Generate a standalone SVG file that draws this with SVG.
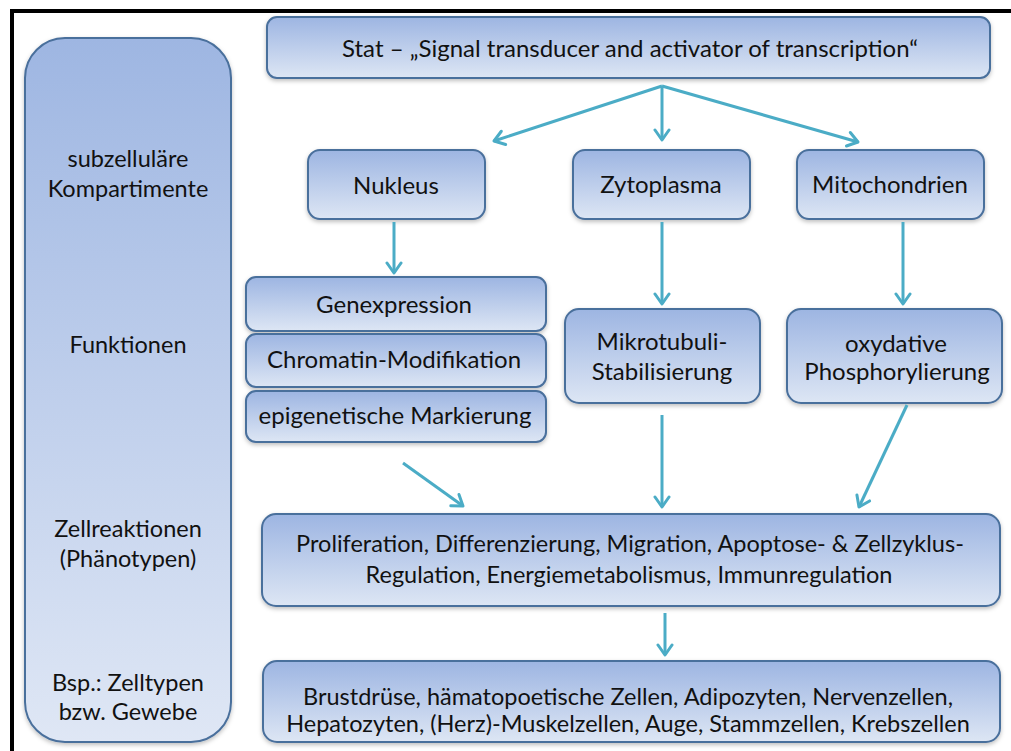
<svg xmlns="http://www.w3.org/2000/svg" width="1011" height="751" viewBox="0 0 1011 751">
<defs>
<linearGradient id="g" x1="0" y1="0" x2="0" y2="1">
<stop offset="0" stop-color="#9db5e2"/>
<stop offset="1" stop-color="#dde6f4"/>
</linearGradient>
<linearGradient id="gl" x1="0" y1="0" x2="0" y2="1">
<stop offset="0" stop-color="#9eb6e2"/>
<stop offset="1" stop-color="#dfe7f5"/>
</linearGradient>
<filter id="sh" x="-10%" y="-10%" width="120%" height="130%">
<feDropShadow dx="0" dy="2" stdDeviation="2" flood-color="#000" flood-opacity="0.25"/>
</filter>
<marker id="ah" viewBox="0 0 14 18" refX="12" refY="9" markerWidth="14" markerHeight="18" markerUnits="userSpaceOnUse" orient="auto">
<path d="M2,2 L12,9 L2,16" fill="none" stroke="#4bacc6" stroke-width="3" stroke-linecap="round" stroke-linejoin="round"/>
</marker>
</defs>
<style>
.box{fill:url(#g);stroke:#4a6f9c;stroke-width:2;filter:url(#sh)}
.t{font-family:Lato,"Liberation Sans",sans-serif;font-size:24px;fill:#111;text-anchor:middle}
.s{font-size:23.5px}
.c{fill:none;stroke:#4bacc6;stroke-width:3;marker-end:url(#ah)}
</style>
<rect x="0" y="0" width="1011" height="751" fill="#fff"/>
<rect x="12" y="11" width="1010" height="760" fill="none" stroke="#000" stroke-width="4"/>

<g id="left">
<rect x="25" y="38" width="206" height="704" rx="40" ry="40" fill="url(#gl)" stroke="#4a6f9c" stroke-width="2" filter="url(#sh)"/>
<text class="t s" x="128" y="167">subzelluläre</text>
<text class="t s" x="128" y="197">Kompartimente</text>
<text class="t s" x="128" y="353">Funktionen</text>
<text class="t s" x="128" y="537">Zellreaktionen</text>
<text class="t s" x="128" y="567">(Phänotypen)</text>
<text class="t s" x="128" y="691">Bsp.: Zelltypen</text>
<text class="t s" x="128" y="720">bzw. Gewebe</text>
</g>

<g id="stat">
<rect class="box" x="267" y="17" width="723" height="61" rx="10"/>
<text class="t" x="630" y="57">Stat – „Signal transducer and activator of transcription“</text>
</g>
<g id="nukleus">
<rect class="box" x="308" y="150" width="177" height="69" rx="12"/>
<text class="t" x="396" y="194">Nukleus</text>
</g>
<g id="zytoplasma">
<rect class="box" x="573" y="150" width="177" height="69" rx="12"/>
<text class="t" x="661" y="193">Zytoplasma</text>
</g>
<g id="mitochondrien">
<rect class="box" x="797" y="150" width="187" height="69" rx="12"/>
<text class="t" x="890" y="193">Mitochondrien</text>
</g>
<g id="genexpression">
<rect class="box" x="246" y="277" width="300" height="54" rx="10"/>
<text class="t" x="394" y="313">Genexpression</text>
</g>
<g id="chromatin">
<rect class="box" x="246" y="334" width="300" height="53" rx="10"/>
<text class="t" x="394" y="368">Chromatin-Modifikation</text>
</g>
<g id="epigenetisch">
<rect class="box" x="246" y="391" width="300" height="51" rx="10"/>
<text class="t" x="395" y="424">epigenetische Markierung</text>
</g>
<g id="mikrotubuli">
<rect class="box" x="565" y="309" width="195" height="94" rx="14"/>
<text class="t" x="662" y="350">Mikrotubuli-</text>
<text class="t" x="662" y="380">Stabilisierung</text>
</g>
<g id="oxydative">
<rect class="box" x="787" y="309" width="215" height="94" rx="14"/>
<text class="t" x="896" y="352">oxydative</text>
<text class="t" x="897" y="380">Phosphorylierung</text>
</g>
<g id="zellreaktionen">
<rect class="box" x="262" y="514" width="738" height="92" rx="14"/>
<text class="t s" x="630" y="552">Proliferation, Differenzierung, Migration, Apoptose- &amp; Zellzyklus-</text>
<text class="t s" x="629" y="583">Regulation, Energiemetabolismus, Immunregulation</text>
</g>
<g id="zelltypen">
<rect class="box" x="263" y="661" width="737" height="81" rx="14"/>
<text class="t s" x="628" y="705">Brustdrüse, hämatopoetische Zellen, Adipozyten, Nervenzellen,</text>
<text class="t s" x="628" y="732">Hepatozyten, (Herz)-Muskelzellen, Auge, Stammzellen, Krebszellen</text>
</g>

<g id="connectors">
<path class="c" d="M662,86 L494,141"/>
<path class="c" d="M662,86 L662,140"/>
<path class="c" d="M662,86 L858,142"/>
<path class="c" d="M394,222 L394,273"/>
<path class="c" d="M662,222 L662,304"/>
<path class="c" d="M903,222 L903,304"/>
<path class="c" d="M662,415 L662,507"/>
<path class="c" d="M403,463 L463,506"/>
<path class="c" d="M907,405 L859,507"/>
<path class="c" d="M665,613 L665,655"/>
</g>
</svg>
